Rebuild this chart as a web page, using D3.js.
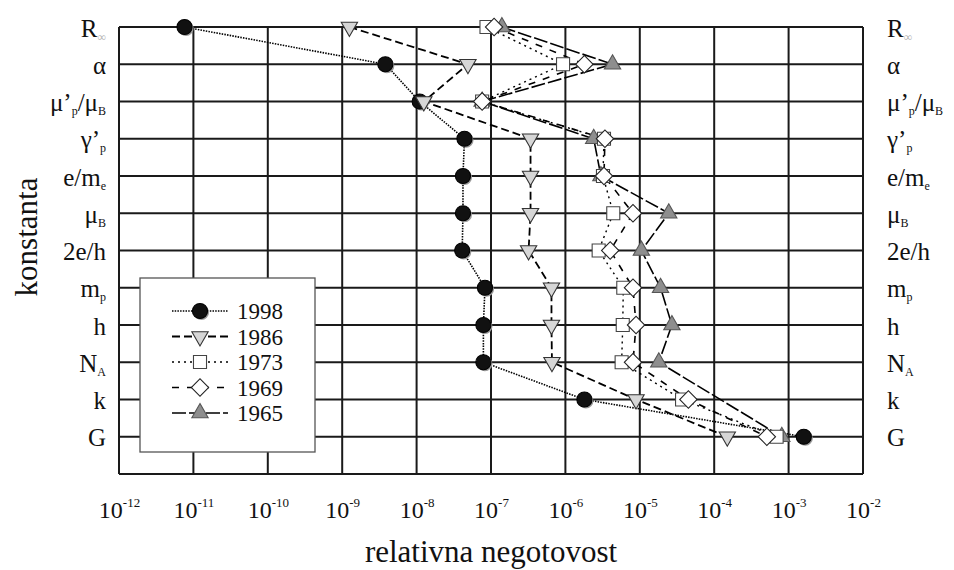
<!DOCTYPE html>
<html>
<head>
<meta charset="utf-8">
<script src="https://cdn.jsdelivr.net/npm/d3@7"></script>
<style>
  body { margin: 0; background: #fff; }
</style>
</head>
<body>
<div id="chart"></div>
<script>
// --- data ---
// constants top to bottom, "_x" marks a subscript character
const constants = ["R_∞", "α", "μ’_p/μ_B", "γ’_p", "e/m_e", "μ_B", "2e/h", "m_p", "h", "N_A", "k", "G"];
const years = ["1998", "1986", "1973", "1969", "1965"];
const exponents = [-12, -11, -10, -9, -8, -7, -6, -5, -4, -3, -2];

// relative uncertainty per constant (same order as constants)
const u1998 = [7.6e-12, 3.8e-9, 1.1e-8, 4.4e-8, 4.2e-8, 4.2e-8, 4.1e-8, 8.3e-8, 7.9e-8, 7.9e-8, 1.8e-6, 1.6e-3];
const u1986 = [1.25e-9, 4.9e-8, 1.25e-8, 3.4e-7, 3.4e-7, 3.4e-7, 3.2e-7, 6.5e-7, 6.5e-7, 6.6e-7, 8.9e-6, 1.5e-4];
const u1973 = [8.7e-8, 9.3e-7, 7.6e-8, 3.3e-6, 3.2e-6, 4.4e-6, 2.8e-6, 6.0e-6, 5.9e-6, 5.7e-6, 3.7e-5, 6.9e-4];
const u1969 = [1.1e-7, 1.8e-6, 7.6e-8, 3.4e-6, 3.3e-6, 8.1e-6, 4.0e-6, 8.1e-6, 8.9e-6, 8.1e-6, 4.5e-5, 5.1e-4];
const u1965 = [1.4e-7, 4.3e-6, 7.6e-8, 2.4e-6, 3.0e-6, 2.45e-5, 1.05e-5, 1.9e-5, 2.7e-5, 1.8e-5, null, 8.1e-4];

const valuesByYear = {"1998": u1998, "1986": u1986, "1973": u1973, "1969": u1969, "1965": u1965};

const FONT = "Liberation Serif";

// --- layout ---
const W = 954, H = 570;
const margin = {top: 27, right: 91, bottom: 96, left: 119};
const width = W - margin.left - margin.right;
const height = H - margin.top - margin.bottom;
const step = height / constants.length;

const svg = d3.select("#chart").append("svg")
    .attr("width", W)
    .attr("height", H)
    .attr("font-family", FONT);

const g = svg.append("g")
    .attr("transform", `translate(${margin.left},${margin.top})`);

const x = d3.scaleLog()
    .domain([1e-12, 1e-2])
    .range([0, width]);

const y = d3.scalePoint()
    .domain(constants)
    .range([0, height - step]);

// marker / line look of each series
const style = {
  "1998": {sym: d3.symbolCircle, size: 180, rot: 0, fill: "#111", stroke: "#000", dash: "1.5,1.2", lw: 1.6},
  "1986": {sym: d3.symbolTriangle, size: 115, rot: 180, fill: "#d6d6d6", stroke: "#333", dash: "8,4", lw: 1.8},
  "1973": {sym: d3.symbolSquare, size: 170, rot: 0, fill: "#fff", stroke: "#444", dash: "2,4", lw: 1.4},
  "1969": {sym: d3.symbolSquare, size: 150, rot: 45, fill: "#fff", stroke: "#222", dash: "7,8", lw: 1.6},
  "1965": {sym: d3.symbolTriangle, size: 115, rot: 0, fill: "#8e8e8e", stroke: "#555", dash: "14,3", lw: 1.6}
};

// --- grid ---
g.append("g").selectAll("line")
  .data(exponents)
  .join("line")
    .attr("x1", d => x(Math.pow(10, d)))
    .attr("x2", d => x(Math.pow(10, d)))
    .attr("y1", 0)
    .attr("y2", height)
    .attr("stroke", "#1a1a1a")
    .attr("stroke-width", 2);

g.append("g").selectAll("line")
  .data([...constants.map(c => y(c)), height])
  .join("line")
    .attr("x1", 0)
    .attr("x2", width)
    .attr("y1", d => d)
    .attr("y2", d => d)
    .attr("stroke", "#1a1a1a")
    .attr("stroke-width", 2);

// --- text helper: "_x" becomes a subscript ---
function richLabel(sel, s, base, sub) {
  sel.text(null);
  const parts = s.split(/_(.)/);
  let shifted = false;
  parts.forEach((p, i) => {
    if (p === "") return;
    const isSub = i % 2 === 1;
    const t = sel.append("tspan").text(p)
        .attr("font-family", FONT)
        .attr("font-size", isSub ? sub : base);
    if (isSub && !shifted) { t.attr("dy", 4); shifted = true; }
    else if (!isSub && shifted) { t.attr("dy", -4); shifted = false; }
    if (isSub && p === "∞") t.attr("fill", "#b0b0b0");
  });
}

// --- axes (category names both sides, decades at bottom) ---
const axL = g.append("g").call(d3.axisLeft(y).tickSize(0).tickPadding(13));
const axR = g.append("g").attr("transform", `translate(${width},0)`)
    .call(d3.axisRight(y).tickSize(0).tickPadding(24));
[axL, axR].forEach(ax => {
  ax.attr("font-family", FONT).attr("font-size", null);
  ax.select(".domain").remove();
  ax.selectAll("text")
      .attr("dy", null)
      .attr("y", 9)
      .attr("fill", "#111")
      .each(function(d) { richLabel(d3.select(this), d, 25, 12); });
});

const axB = g.append("g").attr("transform", `translate(0,${height})`)
    .call(d3.axisBottom(x)
      .tickValues(exponents.map(e => Math.pow(10, e)))
      .tickSize(0).tickPadding(44));
axB.attr("font-family", FONT).attr("font-size", null);
axB.select(".domain").remove();
axB.selectAll("text")
    .attr("dy", null)
    .attr("y", 44)
    .attr("text-anchor", "middle")
    .attr("fill", "#111")
    .each(function(d, i) {
      const t = d3.select(this).text(null);
      t.append("tspan").text("10").attr("font-size", 24);
      t.append("tspan").text(exponents[i]).attr("font-size", 13).attr("dy", -11);
    });

// --- series ---
const line = d3.line()
    .x(d => x(d.v))
    .y(d => y(d.c));

const series = years.map(yr => ({
  year: yr,
  points: valuesByYear[yr]
    .map((v, i) => ({c: constants[i], v: v}))
    .filter(d => d.v !== null)   // 1965 has no value for k, line runs on
}));

g.append("g").selectAll("path")
  .data(series)
  .join("path")
    .attr("d", d => line(d.points))
    .attr("fill", "none")
    .attr("stroke", "#000")
    .attr("stroke-width", d => style[d.year].lw)
    .attr("stroke-dasharray", d => style[d.year].dash);

function drawMarker(sel, yr) {
  const s = style[yr];
  if (yr === "1998") {
    sel.append("path")
        .attr("d", d3.symbol(s.sym, s.size)())
        .attr("transform", "translate(1.5,1.5)")
        .attr("fill", "#9a9a9a");
  }
  sel.append("path")
      .attr("d", d3.symbol(s.sym, s.size)())
      .attr("transform", `rotate(${s.rot})`)
      .attr("fill", s.fill)
      .attr("stroke", s.stroke)
      .attr("stroke-width", 1.1);
}

const drawOrder = ["1965", "1973", "1969", "1998", "1986"];
drawOrder.forEach(yr => {
  const sr = series.find(d => d.year === yr);
  g.append("g").selectAll("g")
    .data(sr.points)
    .join("g")
      .attr("transform", d => `translate(${x(d.v)},${y(d.c)})`)
      .each(function() { drawMarker(d3.select(this), yr); });
});

// --- legend ---
const leg = svg.append("g").attr("transform", "translate(140,278)");
leg.append("rect")
    .attr("width", 175)
    .attr("height", 174)
    .attr("fill", "#fff")
    .attr("stroke", "#555")
    .attr("stroke-width", 1.3);

const item = leg.selectAll("g.item")
  .data(years)
  .join("g")
    .attr("class", "item")
    .attr("transform", (d, i) => `translate(0,${33 + i * 25.5})`);

item.append("line")
    .attr("x1", 32).attr("x2", 88)
    .attr("stroke", "#000")
    .attr("stroke-width", d => style[d].lw)
    .attr("stroke-dasharray", d => style[d].dash);

item.append("g")
    .attr("transform", "translate(60,0)")
    .each(function(d) { drawMarker(d3.select(this), d); });

item.append("text")
    .attr("x", 97)
    .attr("y", 8)
    .attr("font-size", 23)
    .attr("fill", "#111")
    .text(d => d);

// --- axis titles ---
svg.append("text")
    .attr("transform", "translate(37,237) rotate(-90)")
    .attr("text-anchor", "middle")
    .attr("font-size", 31)
    .attr("fill", "#111")
    .text("konstanta");

svg.append("text")
    .attr("x", margin.left + width / 2)
    .attr("y", 562)
    .attr("text-anchor", "middle")
    .attr("font-size", 31)
    .attr("fill", "#111")
    .text("relativna negotovost");
</script>
</body>
</html>
